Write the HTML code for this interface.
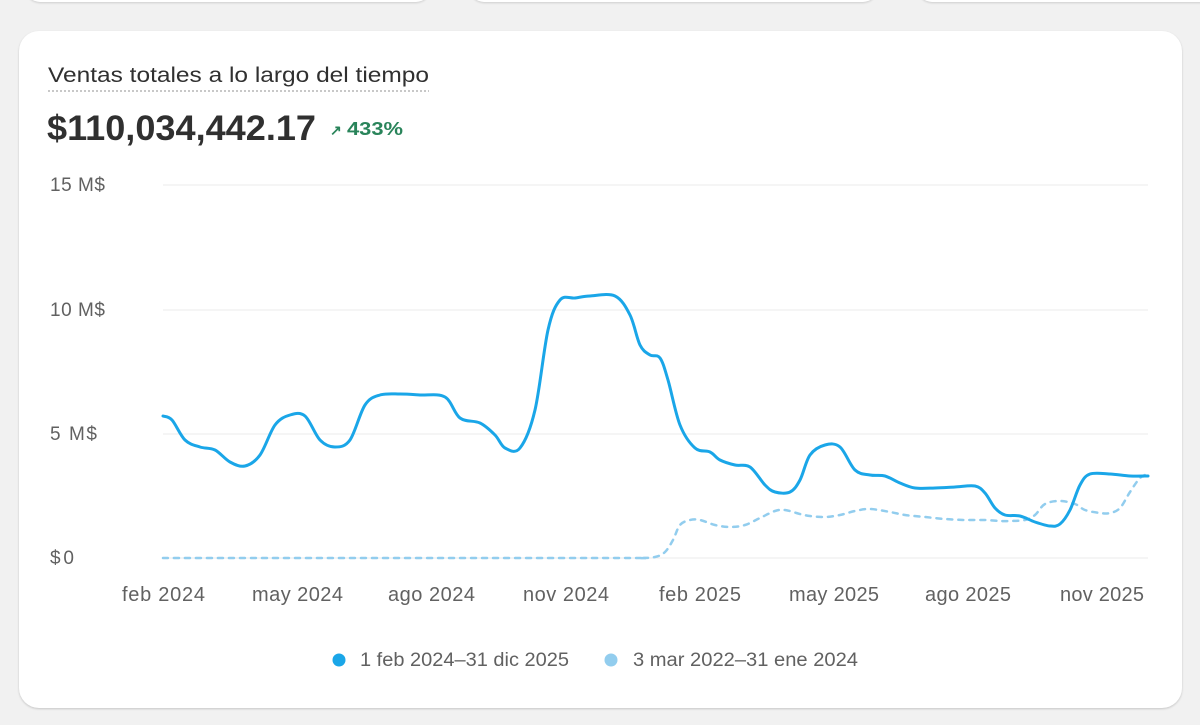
<!DOCTYPE html>
<html><head><meta charset="utf-8"><style>
body{margin:0;width:1200px;height:725px;background:#f1f1f1;font-family:"Liberation Sans",sans-serif;position:relative;overflow:hidden}
.top{position:absolute;top:-20px;height:22px;background:#fff;border-radius:0 0 14px 14px;box-shadow:0 1px 2px rgba(0,0,0,.15)}
.card{position:absolute;left:19px;top:31px;width:1163px;height:677px;background:#fff;border-radius:20px;box-shadow:0 1px 2px rgba(0,0,0,.18)}
</style></head><body>
<div class="top" style="left:26px;width:404px"></div>
<div class="top" style="left:470px;width:407px"></div>
<div class="top" style="left:918px;width:300px"></div>
<div class="card"></div>
<svg width="1200" height="725" style="position:absolute;left:0;top:0" font-family="Liberation Sans, sans-serif">
<text x="48" y="82" font-size="21" fill="#303030" textLength="381" lengthAdjust="spacingAndGlyphs">Ventas totales a lo largo del tiempo</text>
<line x1="48" y1="91" x2="429" y2="91" stroke="#b5b5b5" stroke-width="1.5" stroke-dasharray="2 2"/>
<text x="47" y="140" font-size="35" fill="#303030" font-weight="bold" textLength="269" lengthAdjust="spacingAndGlyphs">$110,034,442.17</text>
<text x="330" y="135" font-size="14" fill="#29845a" font-weight="bold">↗</text>
<text x="347" y="135" font-size="18" fill="#29845a" font-weight="bold" textLength="56" lengthAdjust="spacingAndGlyphs">433%</text>
<g stroke="#ebebeb" stroke-width="1"><line x1="163" y1="185" x2="1148" y2="185"/><line x1="163" y1="310" x2="1148" y2="310"/><line x1="163" y1="434" x2="1148" y2="434"/><line x1="163" y1="558" x2="1148" y2="558"/></g>
<g font-size="19" fill="#616161" lengthAdjust="spacingAndGlyphs"><text x="50" y="191" textLength="55">15 M$</text><text x="50" y="316" textLength="55">10 M$</text><text x="50" y="440" textLength="47">5 M$</text><text x="50" y="564" textLength="24">$0</text></g>
<g font-size="20" fill="#616161" lengthAdjust="spacingAndGlyphs">
<text x="122" y="601" textLength="83">feb 2024</text><text x="252" y="601" textLength="91">may 2024</text><text x="388" y="601" textLength="87">ago 2024</text><text x="523" y="601" textLength="86">nov 2024</text><text x="659" y="601" textLength="82">feb 2025</text><text x="789" y="601" textLength="90">may 2025</text><text x="925" y="601" textLength="86">ago 2025</text><text x="1060" y="601" textLength="84">nov 2025</text></g>
<path id="p2" fill="none" stroke="#92cdee" stroke-width="2.5" stroke-dasharray="5 6" stroke-linecap="round"/>
<path id="p1" fill="none" stroke="#1aa6e8" stroke-width="3" stroke-linecap="round"/>
<circle cx="339" cy="660" r="6.5" fill="#1aa6e8"/><text x="360" y="666" font-size="19" fill="#616161" textLength="209" lengthAdjust="spacingAndGlyphs">1 feb 2024–31 dic 2025</text>
<circle cx="611" cy="660" r="6.5" fill="#92cdee"/><text x="633" y="666" font-size="19" fill="#616161" textLength="225" lengthAdjust="spacingAndGlyphs">3 mar 2022–31 ene 2024</text>
</svg>
<script>
function sm(s){var p=s.trim().split(/\s+/).map(function(q){return q.split(',').map(Number)});var d='M'+p[0][0]+','+p[0][1];
for(var i=0;i<p.length-1;i++){var a=p[i-1]||p[i],b=p[i],c=p[i+1],e=p[i+2]||c;
var c1x=b[0]+(c[0]-a[0])/6,c1y=b[1]+(c[1]-a[1])/6,c2x=c[0]-(e[0]-b[0])/6,c2y=c[1]-(e[1]-b[1])/6;
d+=' C'+c1x+','+c1y+' '+c2x+','+c2y+' '+c[0]+','+c[1];}return d;}
document.getElementById('p1').setAttribute('d',sm("163,416 172,420 185,440 200,447 215,450 230,462 245,466 260,455 275,425 290,415 305,416 320,440 335,447 350,440 365,405 380,395 400,394 420,395 445,397 460,418 480,423 495,435 505,448 520,448 535,410 548,330 560,300 575,298 590,296 615,296 630,315 640,345 650,355 660,358 668,380 680,425 695,448 710,452 720,460 735,465 750,467 765,485 775,492 790,492 800,480 810,455 825,445 840,447 855,470 870,475 885,476 900,483 915,488 935,488 955,487 975,486 985,493 995,508 1005,515 1020,516 1035,522 1050,526 1060,524 1070,510 1080,485 1090,474 1110,474 1130,476 1148,476"));
document.getElementById('p2').setAttribute('d',sm("163,558 600,558 640,558 655,557 665,552 673,540 680,525 690,520 700,520 715,525 730,527 745,525 760,518 775,511 785,510 800,514 810,516 825,517 840,515 855,511 870,509 890,512 905,515 925,517 945,519 965,520 985,520 1000,521 1010,521 1025,520 1035,515 1045,504 1060,501 1075,504 1085,510 1100,513 1110,513 1120,508 1130,492 1140,478 1148,474"));
</script>
</body></html>
